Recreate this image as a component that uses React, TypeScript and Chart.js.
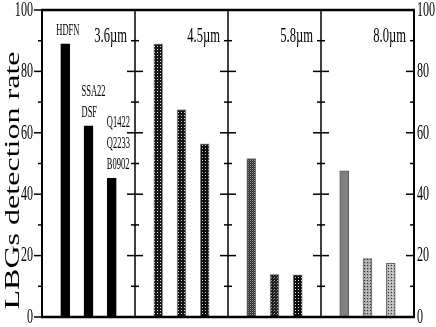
import React, { useEffect, useRef } from 'react';
import { Chart, registerables } from 'chart.js';

Chart.register(...registerables);

const bands = ['3.6µm', '4.5µm', '5.8µm', '8.0µm'];
const fieldNames = [['HDFN'], ['SSA22', 'DSF'], ['Q1422', 'Q2233', 'B0902']];
const rate36 = [89, 62.3, 45.2];
const rate45 = [89, 67.6, 56.4];
const rate58 = [51.6, 13.9, 13.7];
const rate80 = [47.6, 19, 17.5];
const yTicks = [0, 20, 40, 60, 80, 100];
const yTitle = 'LBGs detection rate';

const SERIF = '"Liberation Serif", "Times New Roman", serif';

function tile(ctx: CanvasRenderingContext2D, w: number, h: number, bg: string, dots: [number, number, string][]) {
  const c = document.createElement('canvas');
  c.width = w;
  c.height = h;
  const t = c.getContext('2d')!;
  t.fillStyle = bg;
  t.fillRect(0, 0, w, h);
  dots.forEach(([x, y, col]) => {
    t.fillStyle = col;
    t.fillRect(x, y, 1, 1);
  });
  return ctx.createPattern(c, 'repeat') as CanvasPattern;
}

function drawText(ctx: CanvasRenderingContext2D, text: string, x: number, y: number, size: number, sx: number, align: CanvasTextAlign, baseline: CanvasTextBaseline) {
  ctx.save();
  ctx.translate(x, y);
  ctx.scale(sx, 1);
  ctx.font = `${size}px ${SERIF}`;
  ctx.textAlign = align;
  ctx.textBaseline = baseline;
  ctx.fillStyle = '#000';
  ctx.fillText(text, 0, 0);
  ctx.restore();
}

const framePlugin = {
  id: 'framePlugin',
  afterDatasetsDraw(chart: any) {
    const { ctx, chartArea: a, scales } = chart;
    const xs = scales.x;
    const ys = scales.y;
    const minors: number[] = [];
    for (let i = 0; i < yTicks.length - 1; i++) minors.push((yTicks[i] + yTicks[i + 1]) / 2);

    ctx.save();
    ctx.strokeStyle = '#000';
    ctx.lineCap = 'butt';

    const line = (x1: number, y1: number, x2: number, y2: number, w: number) => {
      ctx.lineWidth = w;
      ctx.beginPath();
      ctx.moveTo(x1, y1);
      ctx.lineTo(x2, y2);
      ctx.stroke();
    };

    // dividers between bands
    for (let k = 1; k < bands.length; k++) {
      const px = xs.getPixelForValue(4 * k);
      line(px, a.top, px, a.bottom, 1.5);
      yTicks.forEach((v) => {
        const py = ys.getPixelForValue(v);
        line(px - 8, py, px + 8, py, 1.5);
      });
      minors.forEach((v) => {
        const py = ys.getPixelForValue(v);
        line(px - 4, py, px + 4, py, 1.5);
      });
    }

    // left axis: ticks outward
    line(a.left, a.top - 1, a.left, a.bottom + 1, 2);
    yTicks.forEach((v) => {
      const py = ys.getPixelForValue(v);
      line(a.left - 8, py, a.left, py, 1.5);
    });
    minors.forEach((v) => {
      const py = ys.getPixelForValue(v);
      line(a.left - 4, py, a.left, py, 1.5);
    });

    // right axis: ticks inward
    line(a.right, a.top - 1, a.right, a.bottom + 1, 2);
    yTicks.forEach((v) => {
      const py = ys.getPixelForValue(v);
      line(a.right - 8, py, a.right, py, 1.5);
    });
    minors.forEach((v) => {
      const py = ys.getPixelForValue(v);
      line(a.right - 4, py, a.right, py, 1.5);
    });

    // top and bottom
    line(a.left - 1, a.top, a.right + 1, a.top, 2.5);
    line(a.left - 1, a.bottom, a.right + 1, a.bottom, 2.5);

    // tick labels
    yTicks.forEach((v) => {
      const py = ys.getPixelForValue(v);
      drawText(ctx, String(v), a.left - 9, py, 22, 0.55, 'right', 'middle');
      drawText(ctx, String(v), a.right + 3, py, 22, 0.55, 'left', 'middle');
    });

    // band labels
    bands.forEach((b, p) => {
      const px = xs.getPixelForValue(4 * (p + 1));
      drawText(ctx, b, px - 8, 42, 21, 0.6, 'right', 'alphabetic');
    });

    // field annotations above the 3.6µm bars
    const offs = [-9, -7, -5];
    fieldNames.forEach((names, j) => {
      const cx = xs.getPixelForValue(j + 1);
      const top = ys.getPixelForValue(rate36[j]);
      names.forEach((n, i) => {
        const yb = top - 9 - (names.length - 1 - i) * 21;
        drawText(ctx, n, cx + offs[j], yb, 17, 0.5, 'left', 'alphabetic');
      });
    });

    // y title
    ctx.save();
    ctx.translate(13, (a.top + a.bottom) / 2 + 17);
    ctx.rotate(-Math.PI / 2);
    ctx.font = `32px ${SERIF}`;
    const w = ctx.measureText(yTitle).width;
    ctx.scale(258 / w, 0.66);
    ctx.textAlign = 'center';
    ctx.textBaseline = 'middle';
    ctx.fillStyle = '#000';
    ctx.fillText(yTitle, 0, 0);
    ctx.restore();

    ctx.restore();
  },
};

export default function App() {
  const ref = useRef<HTMLCanvasElement | null>(null);

  useEffect(() => {
    const canvas = ref.current!;
    const ctx = canvas.getContext('2d')!;

    const fills = [
      '#000000', '#000000', '#000000',
      tile(ctx, 3, 3, '#151515', [[1, 1, '#e8e8e8']]),
      tile(ctx, 3, 3, '#151515', [[1, 1, '#d0d0d0']]),
      tile(ctx, 3, 3, '#101010', [[1, 1, '#c8c8c8']]),
      tile(ctx, 2, 2, '#2a2a2a', [[0, 0, '#9a9a9a'], [1, 1, '#555555']]),
      tile(ctx, 3, 3, '#1e1e1e', [[1, 1, '#aaaaaa'], [0, 2, '#666666']]),
      tile(ctx, 3, 3, '#0a0a0a', [[1, 1, '#f0f0f0']]),
      '#808080',
      tile(ctx, 3, 3, '#a8a8a8', [[1, 1, '#303030'], [0, 0, '#d8d8d8']]),
      tile(ctx, 3, 3, '#b8b8b8', [[1, 1, '#303030'], [2, 0, '#e0e0e0']]),
    ];
    const borders = [
      '#000', '#000', '#000',
      '#9a9a9a', '#9a9a9a', '#888888',
      '#777777', '#9a9a9a', '#777777',
      '#5a5a5a', '#666666', '#666666',
    ];

    const series = [rate36, rate45, rate58, rate80];
    const data = series.flatMap((arr, p) => arr.map((v, j) => ({ x: p * 4 + j + 1, y: v })));

    const chart = new Chart(ctx, {
      type: 'bar',
      data: {
        datasets: [
          {
            data: data as any,
            backgroundColor: fills as any,
            borderColor: borders,
            borderWidth: 1,
            barThickness: 9,
          },
        ],
      },
      options: {
        animation: false,
        responsive: false,
        events: [],
        layout: { padding: { left: 42, right: 22, top: 10, bottom: 10 } },
        plugins: { legend: { display: false }, tooltip: { enabled: false } },
        scales: {
          x: { type: 'linear', min: 0, max: 16, offset: false, display: false },
          y: { type: 'linear', min: 0, max: 100, display: false },
        },
      },
      plugins: [framePlugin],
    });
    return () => chart.destroy();
  }, []);

  return (
    <div style={{ position: 'absolute', left: 0, top: 0, width: 436, height: 327, background: '#fff' }}>
      <canvas ref={ref} width={436} height={327} />
    </div>
  );
}
